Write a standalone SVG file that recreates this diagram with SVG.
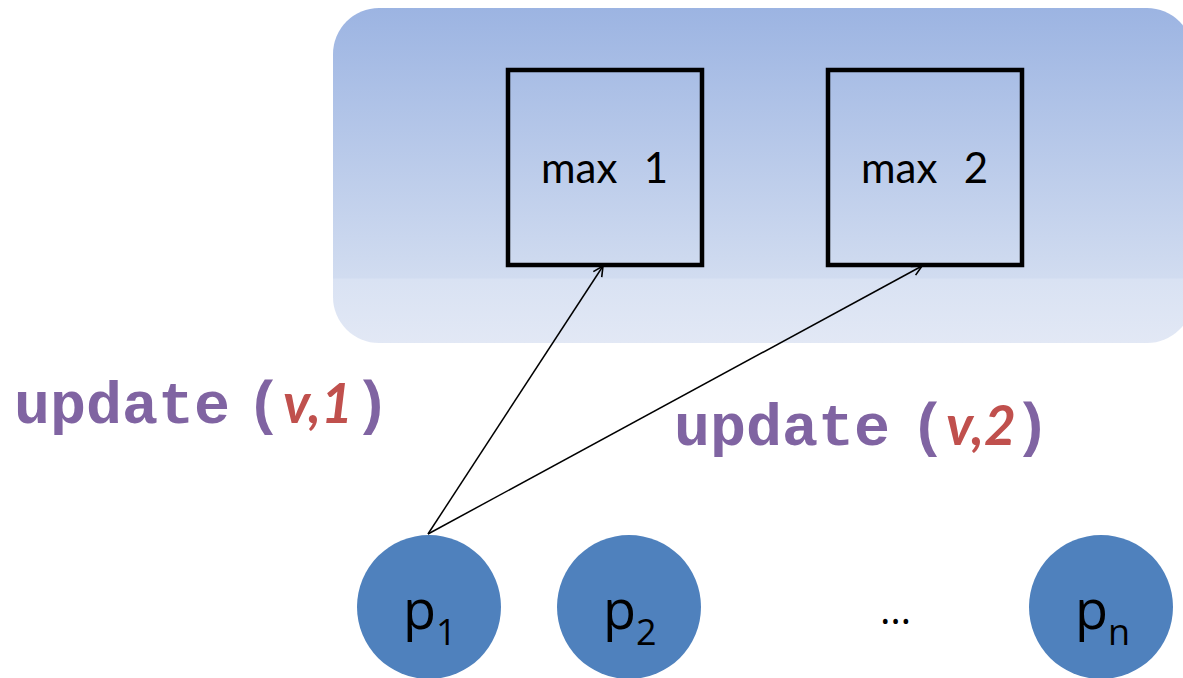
<svg xmlns="http://www.w3.org/2000/svg" width="1183" height="678" viewBox="0 0 1183 678">
  <defs>
    <linearGradient id="panelFill" x1="0" y1="0" x2="0" y2="1">
      <stop offset="0" stop-color="#9CB4E2"/>
      <stop offset="0.805" stop-color="#D1DCF0"/>
      <stop offset="0.81" stop-color="#D9E2F3"/>
      <stop offset="1" stop-color="#E2E8F5"/>
    </linearGradient>
    <marker id="openArrow" viewBox="0 0 12 12" refX="11" refY="6" markerWidth="12" markerHeight="12" markerUnits="userSpaceOnUse" orient="auto">
      <path d="M1,1 L11,6 L1,11" fill="none" stroke="#000" stroke-width="1.6"/>
    </marker>
    <style>
      .box { fill: none; stroke: #000; stroke-width: 4.5; }
      .boxLabel { font-family: Lato, "Open Sans", "Liberation Sans", sans-serif; font-size: 42px; fill: #000; }
      .proc { fill: #4F81BD; }
      .procLabel { font-family: "Open Sans", "Liberation Sans", sans-serif; font-size: 54px; fill: #000; }
      .sub { font-size: 36px; }
      .edge { stroke: #000; stroke-width: 1.5; fill: none; marker-end: url(#openArrow); }
      .call { font-family: "Liberation Mono", "Courier New", monospace; font-weight: bold; font-size: 60px; fill: #8064A2; }
      .arg { font-family: Lato, "Open Sans", "Liberation Sans", sans-serif; font-weight: bold; font-style: italic; font-size: 55px; fill: #C0504D; }
      .ellipsis { font-family: "Open Sans", "Liberation Sans", sans-serif; font-size: 40px; fill: #000; }
    </style>
  </defs>

  <rect fill="#FFFFFF" x="0" y="0" width="1183" height="678"/>

  <!-- shared store panel -->
  <g id="panel">
    <rect x="333" y="8" width="860" height="335" rx="46" ry="46" fill="url(#panelFill)"/>
  </g>

  <g id="max1">
    <rect class="box" x="508" y="70" width="194" height="195"/>
    <text class="boxLabel" x="541" y="183">max</text>
    <text class="boxLabel" x="668" y="183" text-anchor="end">1</text>
  </g>

  <g id="max2">
    <rect class="box" x="828" y="70" width="194" height="195"/>
    <text class="boxLabel" x="861" y="183">max</text>
    <text class="boxLabel" x="988" y="183" text-anchor="end">2</text>
  </g>

  <!-- processes -->
  <g id="p1">
    <circle class="proc" cx="429" cy="607" r="72"/>
    <text class="procLabel" x="403" y="629">p<tspan class="sub" dy="16">1</tspan></text>
  </g>

  <g id="p2">
    <circle class="proc" cx="629" cy="607" r="72"/>
    <text class="procLabel" x="603" y="629">p<tspan class="sub" dy="16">2</tspan></text>
  </g>

  <g id="dots">
    <text class="ellipsis" x="880" y="624">…</text>
  </g>

  <g id="pn">
    <circle class="proc" cx="1101" cy="607" r="72"/>
    <text class="procLabel" x="1075" y="629">p<tspan class="sub" dy="16">n</tspan></text>
  </g>

  <!-- update calls from p1 -->
  <g id="connectors">
    <line class="edge" x1="428" y1="534" x2="603" y2="266"/>
    <line class="edge" x1="428" y1="534" x2="922" y2="266"/>
  </g>

  <g id="label1">
    <text y="423"><tspan class="call" x="14">update</tspan><tspan class="call" x="246">(</tspan><tspan class="arg" x="283">v,1</tspan><tspan class="call" x="354">)</tspan></text>
  </g>

  <g id="label2">
    <text y="445"><tspan class="call" x="674">update</tspan><tspan class="call" x="910">(</tspan><tspan class="arg" x="946">v,2</tspan><tspan class="call" x="1014">)</tspan></text>
  </g>
</svg>
